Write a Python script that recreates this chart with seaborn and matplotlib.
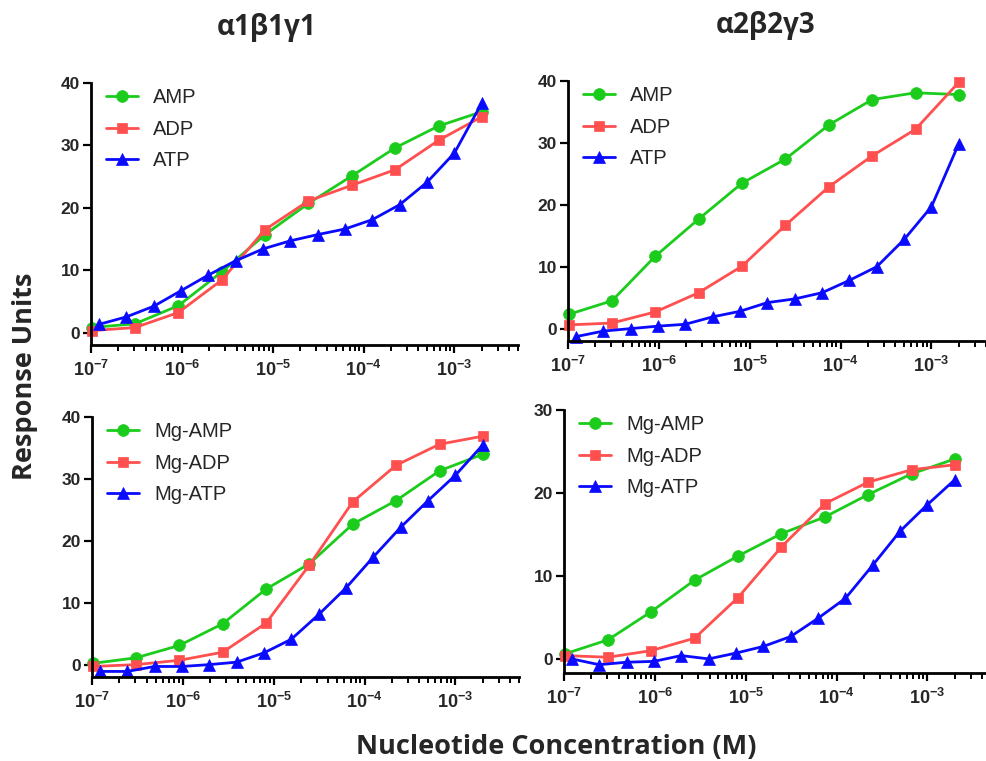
import matplotlib
matplotlib.use("Agg")
import matplotlib.pyplot as plt
import matplotlib.ticker as mticker
import seaborn as sns

# concentrations (M): 3-fold series for AMP/ADP, 2-fold series for ATP
conc_3fold = [1.02e-7, 3.05e-7, 9.14e-7, 2.74e-6, 8.23e-6, 2.47e-5, 7.41e-5, 2.22e-4, 6.67e-4, 2.0e-3]
conc_2fold = [1.22e-7, 2.44e-7, 4.88e-7, 9.77e-7, 1.95e-6, 3.91e-6, 7.81e-6, 1.56e-5,
              3.13e-5, 6.25e-5, 1.25e-4, 2.5e-4, 5.0e-4, 1.0e-3, 2.0e-3]

# alpha1 beta1 gamma1, no Mg
a1_amp = [0.8, 1.4, 4.3, 9.7, 15.7, 20.7, 25.1, 29.6, 33.1, 35.4]
a1_adp = [0.3, 0.8, 3.2, 8.4, 16.5, 21.1, 23.6, 26.1, 30.8, 34.6]
a1_atp = [1.3, 2.5, 4.2, 6.7, 9.2, 11.5, 13.4, 14.7, 15.7, 16.6, 18.1, 20.5, 24.1, 28.8, 36.8]

# alpha2 beta2 gamma3, no Mg
a2_amp = [2.3, 4.5, 11.7, 17.7, 23.5, 27.4, 32.9, 37.0, 38.1, 37.8]
a2_adp = [0.6, 0.9, 2.7, 5.8, 10.1, 16.7, 22.9, 27.9, 32.2, 39.8]
a2_atp = [-1.3, -0.4, 0.0, 0.4, 0.7, 1.9, 2.8, 4.2, 4.8, 5.8, 7.8, 10.0, 14.4, 19.7, 29.9]

# alpha1 beta1 gamma1, Mg complexes
a1_mgamp = [0.2, 1.1, 3.1, 6.6, 12.2, 16.3, 22.7, 26.5, 31.3, 34.0]
a1_mgadp = [-0.3, 0.0, 0.7, 2.0, 6.7, 16.1, 26.3, 32.2, 35.6, 36.9]
a1_mgatp = [-1.1, -1.1, -0.3, -0.3, 0.0, 0.4, 1.9, 4.1, 8.1, 12.4, 17.4, 22.2, 26.5, 30.6, 35.5]

# alpha2 beta2 gamma3, Mg complexes
a2_mgamp = [0.6, 2.3, 5.7, 9.5, 12.4, 15.1, 17.1, 19.8, 22.3, 24.1]
a2_mgadp = [0.4, 0.2, 1.0, 2.5, 7.4, 13.5, 18.7, 21.3, 22.8, 23.4]
a2_mgatp = [0.0, -0.7, -0.4, -0.3, 0.4, 0.0, 0.7, 1.5, 2.7, 4.9, 7.3, 11.3, 15.4, 18.6, 21.6]

GREEN = "#1ccc1c"
RED = "#ff4f4f"
BLUE = "#0a0aff"

sns.set_style("ticks")
plt.rcParams["font.family"] = ["Liberation Sans", "DejaVu Sans"]
plt.rcParams["mathtext.fontset"] = "custom"
plt.rcParams["mathtext.rm"] = "Liberation Sans:bold"
plt.rcParams["mathtext.bf"] = "Liberation Sans:bold"
plt.rcParams["mathtext.default"] = "bf"

fig = plt.figure(figsize=(9.87, 7.61), dpi=100)

W, H = 987.0, 761.0


def make_axes(left_px, top_px, bottom_px, right_px):
    return fig.add_axes([left_px / W, 1 - bottom_px / H,
                         (right_px - left_px) / W, (bottom_px - top_px) / H])


def style_axes(ax, ylim, yticks):
    ax.set_xscale("log")
    ax.set_xlim(1e-7, 5e-3)
    ax.set_ylim(*ylim)
    ax.set_yticks(yticks)
    ax.set_yticklabels([str(t) for t in yticks], fontweight="bold", fontsize=12.5)
    majors = [1e-7, 1e-6, 1e-5, 1e-4, 1e-3]
    ax.xaxis.set_major_locator(mticker.FixedLocator(majors))
    ax.xaxis.set_major_formatter(mticker.FixedFormatter(
        [r"$10^{-7}$", r"$10^{-6}$", r"$10^{-5}$", r"$10^{-4}$", r"$10^{-3}$"]))
    ax.xaxis.set_minor_locator(mticker.LogLocator(base=10, subs=range(2, 10), numticks=20))
    ax.xaxis.set_minor_formatter(mticker.NullFormatter())
    ax.tick_params(axis="x", which="major", direction="out", length=6, width=1.6,
                   labelsize=13, pad=5, color="black")
    ax.tick_params(axis="x", which="minor", direction="out", length=4, width=1.4, color="black")
    ax.tick_params(axis="y", which="major", direction="out", length=6, width=1.6, pad=2, color="black")
    for s in ("left", "bottom"):
        ax.spines[s].set_linewidth(2)
        ax.spines[s].set_color("black")
    sns.despine(ax=ax)
    ax.set_xlabel("")
    ax.set_ylabel("")


def draw_panel(ax, series, labels, ylim, yticks):
    markers = [("o", 8.5), ("s", 7.5), ("^", 8.5)]
    colors = [GREEN, RED, BLUE]
    for (xs, ys), lab, (m, ms), c in zip(series, labels, markers, colors):
        sns.lineplot(x=xs, y=ys, ax=ax, color=c, marker=m, markersize=ms,
                     markeredgecolor=c, markeredgewidth=0.5, linewidth=2,
                     label=lab, clip_on=False)
    style_axes(ax, ylim, yticks)
    ax.legend(loc="upper left", bbox_to_anchor=(0.035, 0.98), frameon=False,
              borderaxespad=0, borderpad=0, fontsize=14.5, handlelength=1.6,
              handletextpad=0.75, labelspacing=0.62)


ax_tl = make_axes(91, 83, 345, 518)
draw_panel(ax_tl, [(conc_3fold, a1_amp), (conc_3fold, a1_adp), (conc_2fold, a1_atp)],
           ["AMP", "ADP", "ATP"], (-2, 40), [0, 10, 20, 30, 40])

ax_tr = make_axes(568, 81, 341, 995)
draw_panel(ax_tr, [(conc_3fold, a2_amp), (conc_3fold, a2_adp), (conc_2fold, a2_atp)],
           ["AMP", "ADP", "ATP"], (-2, 40), [0, 10, 20, 30, 40])

ax_bl = make_axes(92, 417, 677, 519)
draw_panel(ax_bl, [(conc_3fold, a1_mgamp), (conc_3fold, a1_mgadp), (conc_2fold, a1_mgatp)],
           ["Mg-AMP", "Mg-ADP", "Mg-ATP"], (-2, 40), [0, 10, 20, 30, 40])

ax_br = make_axes(564, 410, 673, 991)
draw_panel(ax_br, [(conc_3fold, a2_mgamp), (conc_3fold, a2_mgadp), (conc_2fold, a2_mgatp)],
           ["Mg-AMP", "Mg-ADP", "Mg-ATP"], (-1.7, 30), [0, 10, 20, 30])

title_font = ["Open Sans", "DejaVu Sans"]
fig.text(267 / W, 1 - 27 / H, "α1β1γ1", ha="center", va="center",
         fontsize=20, fontweight="bold", family=title_font)
fig.text(766 / W, 1 - 25 / H, "α2β2γ3", ha="center", va="center",
         fontsize=20, fontweight="bold", family=title_font)
fig.text(25 / W, 1 - 376 / H, "Response Units", ha="center", va="center",
         rotation=90, fontsize=19.5, fontweight="bold", family=title_font)
fig.text(556 / W, 1 - 747 / H, "Nucleotide Concentration (M)", ha="center", va="center",
         fontsize=19.5, fontweight="bold", family=title_font)

fig.savefig("out.png", dpi=100, facecolor="white")
